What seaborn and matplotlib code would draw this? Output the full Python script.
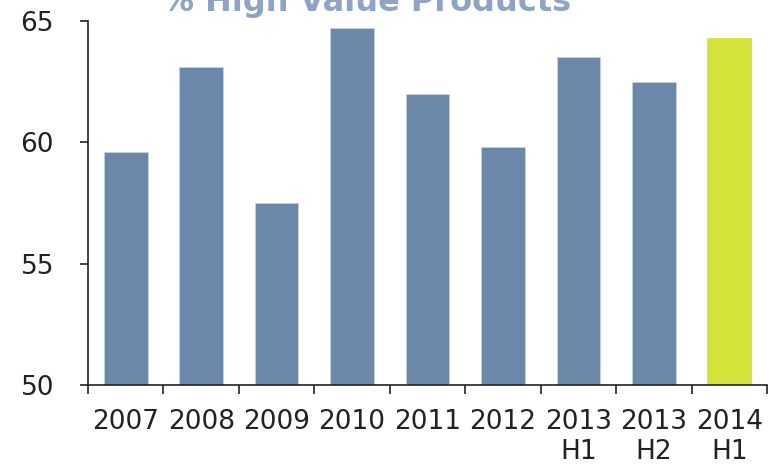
import matplotlib
matplotlib.use("Agg")
import matplotlib.pyplot as plt
import seaborn as sns
import pandas as pd
from matplotlib.ticker import FixedLocator

# Share of high value products by period
periods = ["2007", "2008", "2009", "2010", "2011", "2012", "2013\nH1", "2013\nH2", "2014\nH1"]
share_pct = [59.6, 63.1, 57.5, 64.7, 62.0, 59.8, 63.5, 62.5, 64.3]
y_ticks = [50, 55, 60, 65]
title = "% High Value Products"

bar_blue = "#6b88ab"
bar_green = "#d4e23a"
bar_colors = [bar_blue] * (len(periods) - 1) + [bar_green]

sns.set_style("ticks")
plt.rcParams["font.family"] = ["DejaVu Sans"]

df = pd.DataFrame({"period": periods, "share": share_pct})

fig = plt.figure(figsize=(7.79, 4.66), dpi=100)
ax = fig.add_axes([88 / 779, 1 - 385 / 466, (767 - 88) / 779, (385 - 21) / 466])

sns.barplot(data=df, x="period", y="share", hue="period", palette=bar_colors,
            legend=False, width=0.58, ax=ax, saturation=1,
            edgecolor="#c8d2df", linewidth=0.6)
# highlighted period has no light outline
ax.patches[-1].set_edgecolor(bar_green)

ax.set_ylim(50, 65)
ax.set_xlim(-0.5, len(periods) - 0.5)
ax.set_yticks(y_ticks)
ax.set_xlabel("")
ax.set_ylabel("")

sns.despine(ax=ax)
for side in ("left", "bottom"):
    ax.spines[side].set_linewidth(1.2)
    ax.spines[side].set_color("#222222")

# labels centred under bars, tick marks at category boundaries
ax.tick_params(axis="x", which="major", length=0, pad=17.5, labelsize=19, labelcolor="#222222")
ax.xaxis.set_minor_locator(FixedLocator([i - 0.5 for i in range(len(periods) + 1)]))
ax.tick_params(axis="x", which="minor", length=6.5, width=1.2, color="#222222", direction="out")
ax.tick_params(axis="y", length=6, width=1.2, color="#222222", pad=18.5, labelsize=19,
               labelcolor="#222222")
for lbl in ax.get_xticklabels():
    lbl.set_linespacing(1.2)

fig.text(367 / 779, 1 - 11 / 466, title, ha="center", va="baseline",
         fontsize=23, fontweight="bold", color="#8ea4c2")

fig.savefig("out.png", dpi=100)
